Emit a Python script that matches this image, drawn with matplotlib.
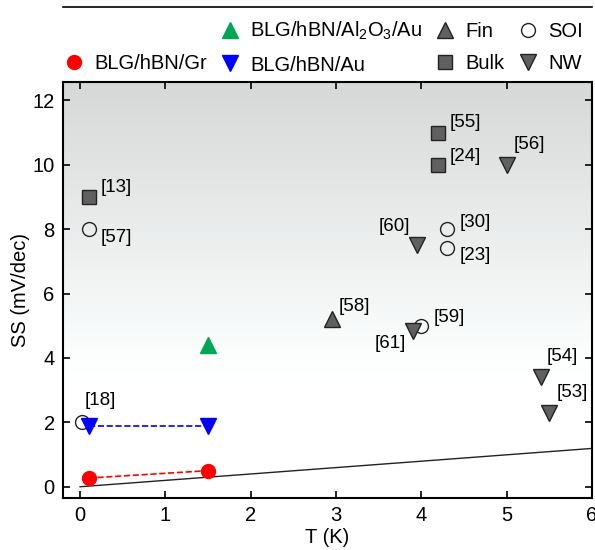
import numpy as np
import matplotlib
matplotlib.use("Agg")
from matplotlib import pyplot as plt
from matplotlib.lines import Line2D

plt.rcParams['font.family'] = ['Liberation Sans', 'DejaVu Sans']
plt.rcParams['mathtext.default'] = 'regular'
plt.rcParams['font.size'] = 14.5

# this work
gr_T, gr_ss = [0.1, 1.5], [0.27, 0.5]
au_T, au_ss = [0.1, 1.5], [1.9, 1.9]
al_T, al_ss = [1.5], [4.4]

# literature devices: (T, SS, reference)
soi = [(0.02, 2.0, "[18]"), (0.1, 8.0, "[57]"), (4.3, 8.0, "[30]"),
       (4.3, 7.4, "[23]"), (4.0, 5.0, "[59]")]
bulk = [(0.1, 9.0, "[13]"), (4.2, 11.0, "[55]"), (4.2, 10.0, "[24]")]
fin = [(2.95, 5.2, "[58]")]
nw = [(5.0, 10.0, "[56]"), (3.95, 7.5, "[60]"), (3.9, 4.85, "[61]"),
      (5.4, 3.4, "[54]"), (5.5, 2.3, "[53]")]

# thermionic limit kT ln10 / e in mV/dec
limit_T = np.array([0.0, 6.0])
limit_ss = limit_T * 0.1984

# label offsets in pixels (dx, dy up), alignment
lab_pos = {
    "[18]": (3, 22, 'left'), "[57]": (12, -8, 'left'), "[30]": (13, 7, 'left'),
    "[23]": (13, -7, 'left'), "[59]": (12, 8, 'left'), "[13]": (12, 9, 'left'),
    "[55]": (11, 10, 'left'), "[24]": (11, 8, 'left'), "[58]": (7, 13, 'left'),
    "[56]": (7, 20, 'left'), "[60]": (-7, 19, 'right'), "[61]": (-7, -13, 'right'),
    "[54]": (6, 21, 'left'), "[53]": (7, 20, 'left'),
}

fig = plt.figure(figsize=(5.95, 5.5), dpi=100)
ax = fig.add_axes([0.106, 0.0945, 0.889, 0.7565])
xlim = (-0.2, 6.0)
ylim = (-0.35, 12.57)

# grey-to-white background
yy = np.linspace(ylim[0], ylim[1], 300)
t = np.clip((yy - 3.3) / (ylim[1] - 3.3), 0, 1)
shade = 1 - 0.16 * t
img = np.stack([shade, shade * 1.01, shade * 1.01], axis=-1).reshape(-1, 1, 3)
img = np.clip(np.repeat(img, 2, axis=1), 0, 1)
ax.imshow(img, extent=[xlim[0], xlim[1], ylim[0], ylim[1]], origin='lower',
          aspect='auto', zorder=0)

ax.plot(limit_T, limit_ss, color='#222222', lw=1.0, zorder=2)
ax.plot(gr_T, gr_ss, '--', color='red', lw=1.2, zorder=2)
ax.plot(au_T, au_ss, '--', color='blue', lw=1.2, zorder=2)

grey = '#606060'
edge = '#222222'
styles = [(soi, 'o', 'none', 10), (bulk, 's', grey, 9.5),
          (fin, '^', grey, 11), (nw, 'v', grey, 11)]
for group, mk, fc, ms in styles:
    for T, ss, ref in group:
        ax.plot(T, ss, mk, ms=ms, mfc=fc, mec=edge, mew=1.0, zorder=3)
        dx, dy, ha = lab_pos[ref]
        ax.annotate(ref, (T, ss), xytext=(dx * 0.72, dy * 0.72),
                    textcoords='offset points', ha=ha, va='center',
                    fontsize=13.5, zorder=5)

ax.plot(gr_T, gr_ss, 'o', ms=10, color='red', zorder=4)
ax.plot(au_T, au_ss, 'v', ms=12, color='blue', zorder=4)
ax.plot(al_T, al_ss, '^', ms=12, color='#00a651', zorder=4)

ax.set_xlim(*xlim)
ax.set_ylim(*ylim)
ax.set_xticks(range(0, 7))
ax.set_yticks(range(0, 13, 2))
ax.tick_params(direction='in', top=True, right=True, length=5, width=1.2,
               labelsize=14.5, pad=6)
for s in ax.spines.values():
    s.set_linewidth(1.5)
ax.set_xlabel("T (K)", fontsize=14.5, labelpad=2)
ax.set_ylabel("SS (mV/dec)", fontsize=14.5, labelpad=2)

# legend
blank = Line2D([], [], ls='none')
h = lambda mk, c, ms, ec=None: Line2D([], [], ls='none', marker=mk, color=c,
                                      ms=ms, mec=ec or c, mew=1.0)
handles = [blank, h('o', 'red', 10),
           h('^', '#00a651', 12), h('v', 'blue', 12),
           h('^', grey, 11, edge), h('s', grey, 9.5, edge),
           h('o', 'none', 10, edge), h('v', grey, 11, edge)]
labels = ['', 'BLG/hBN/Gr', 'BLG/hBN/Al$_2$O$_3$/Au', 'BLG/hBN/Au',
          'Fin', 'Bulk', 'SOI', 'NW']
fig.legend(handles, labels, ncol=4, loc='upper right',
           bbox_to_anchor=(0.993, 0.978), frameon=False, fontsize=14.5,
           handlelength=1.0, handletextpad=0.5, columnspacing=0.65,
           labelspacing=0.65, borderaxespad=0)

fig.add_artist(Line2D([0.106, 0.995], [0.987, 0.987], color='black', lw=1.2))

fig.savefig("out.png", dpi=100)
